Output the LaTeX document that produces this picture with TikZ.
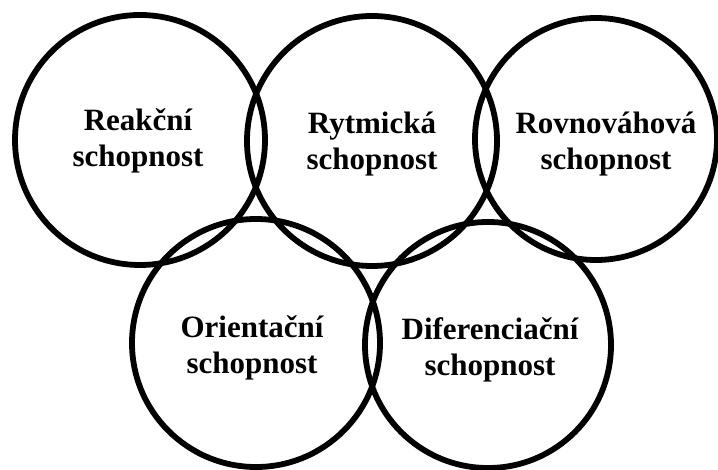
\documentclass[tikz,border=0pt]{standalone}
\usepackage{fontspec}
\setmainfont{Liberation Serif}
\begin{document}
\begin{tikzpicture}[x=1pt,y=-1pt,
  ring/.style={draw=black,line width=5.8pt,circle,inner sep=0pt},
  lbl/.style={font=\fontsize{31}{36}\selectfont\bfseries,align=center,inner sep=0pt,text=black}]
\useasboundingbox[fill=white] (0,0) rectangle (718,470);
\node[ring,minimum size=250pt] (c1) at (140,140) {};
\node[ring,minimum size=250pt] (c2) at (372,141) {};
\node[ring,minimum size=242pt] (c3) at (596,139) {};
\node[ring,minimum size=248pt] (c4) at (256,343) {};
\node[ring,minimum size=246pt] (c5) at (488,345) {};
\node[lbl] (t1) at (138,141) {Reakční\\schopnost};
\node[lbl] (t2) at (372,144) {Rytmická\\schopnost};
\node[lbl] (t3) at (606,144) {Rovnováhová\\schopnost};
\node[lbl] (t4) at (252,348) {Orientační\\schopnost};
\node[lbl] (t5) at (490,350) {Diferenciační\\schopnost};
\end{tikzpicture}
\end{document}
